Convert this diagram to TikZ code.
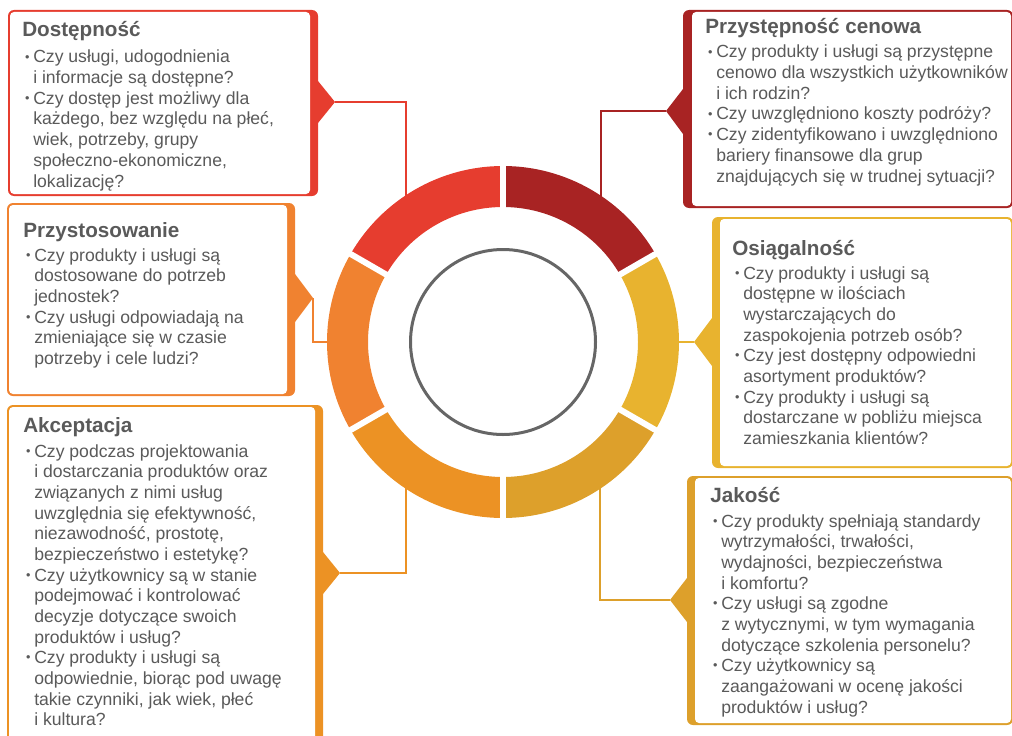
\documentclass[tikz,border=0pt]{standalone}
\usepackage{fontspec}
\setmainfont{Liberation Sans}
\usepackage{xcolor}
\usepackage{tikz}
\usetikzlibrary{calc}
\definecolor{dostred}{HTML}{E63D2F}
\definecolor{cenared}{HTML}{A82323}
\definecolor{osiagyel}{HTML}{E8B32F}
\definecolor{jakgold}{HTML}{DDA02B}
\definecolor{akcorange}{HTML}{EC9224}
\definecolor{przyorange}{HTML}{F08230}
\definecolor{tekstgray}{HTML}{5A5A5A}
\definecolor{kologray}{HTML}{666666}
\newcommand{\pytania}[1]{\vtop{\hsize=300pt\parindent=0pt\parskip=0pt\rightskip=0pt plus 1fil\fontsize{13.2}{15.5}\selectfont #1}}
\newcommand{\pkt}{\par\hangindent=8.25pt\hangafter=1\noindent\makebox[8.25pt][l]{\hspace{2.2pt}\raisebox{1.3pt}{\fontsize{9.5}{9.5}\selectfont •}}}
\tikzstyle{tytul}=[text=tekstgray, font=\fontsize{15.5}{18}\selectfont\bfseries, inner sep=0pt, anchor=base west]
\tikzstyle{tresc}=[text=tekstgray, inner sep=0pt, anchor=base west]
\tikzstyle{lacznik}=[line width=1.4pt]
\tikzstyle{segment}=[line width=30.75pt]
\tikzstyle{przerwa}=[white, line width=4.5pt]

\begin{document}
\begin{tikzpicture}[x=0.75pt, y=-0.75pt]
\useasboundingbox (0,0) rectangle (1012,735);
\coordinate (srodek) at (503,342);

\coordinate (dostTip) at (335,102);
\coordinate (przyTip) at (313,298);
\coordinate (akcTip) at (340,573);
\coordinate (cenaTip) at (666,111);
\coordinate (osiTip) at (694,342);
\coordinate (jakTip) at (670,600);
\coordinate (dostRing) at (406,212);
\coordinate (przyRing) at (342,342);
\coordinate (akcRing) at (406,472);
\coordinate (cenaRing) at (601,212);
\coordinate (osiRing) at (664,342);
\coordinate (jakRing) at (600,472);

\draw[lacznik, dostred] (dostTip) -| (dostRing);
\draw[lacznik, przyorange] (przyTip) |- (przyRing);
\draw[lacznik, akcorange] (akcTip) -| (akcRing);
\draw[lacznik, cenared] (cenaTip) -| (cenaRing);
\draw[lacznik, osiagyel] (osiTip) -- (osiRing);
\draw[lacznik, jakgold] (jakTip) -| (jakRing);

% ring
\draw[segment, dostred] ([shift={(210:155.5)}]srodek) arc (210:270:155.5);
\draw[segment, cenared] ([shift={(270:155.5)}]srodek) arc (270:330:155.5);
\draw[segment, osiagyel] ([shift={(-30:155.5)}]srodek) arc (-30:30:155.5);
\draw[segment, jakgold] ([shift={(30:155.5)}]srodek) arc (30:90:155.5);
\draw[segment, akcorange] ([shift={(90:155.5)}]srodek) arc (90:150:155.5);
\draw[segment, przyorange] ([shift={(150:155.5)}]srodek) arc (150:210:155.5);
\foreach \kat in {30,90,150,210,270,330}
  \draw[przerwa] ([shift={(\kat:128)}]srodek) -- ([shift={(\kat:183)}]srodek);
\draw[kologray, line width=2.25pt] (srodek) circle (92.5);

% boxes
\fill[dostred, rounded corners=4.5pt] (8,10) rectangle (318,196);
\fill[white, rounded corners=3pt] (10,12) rectangle (310,194);
\fill[dostred] (318,81) -- (dostTip) -- (318,123) -- cycle;
\fill[przyorange, rounded corners=4.5pt] (7,203) rectangle (295,396);
\fill[white, rounded corners=3pt] (9,205) rectangle (287,394);
\fill[przyorange] (295,274) -- (przyTip) -- (295,322) -- cycle;
\fill[akcorange, rounded corners=4.5pt] (7,405) rectangle (323,750);
\fill[white, rounded corners=3pt] (9,407) rectangle (315,748);
\fill[akcorange] (323,552) -- (akcTip) -- (323,594) -- cycle;
\fill[cenared, rounded corners=4.5pt] (683,10) rectangle (1013,208);
\fill[white, rounded corners=3pt] (692,12) rectangle (1011,206);
\fill[cenared] (683,89) -- (cenaTip) -- (683,134) -- cycle;
\fill[osiagyel, rounded corners=4.5pt] (712,217) rectangle (1013,468);
\fill[white, rounded corners=3pt] (720,219) rectangle (1011,466);
\fill[osiagyel] (712,318) -- (osiTip) -- (712,366) -- cycle;
\fill[jakgold, rounded corners=4.5pt] (687,476) rectangle (1013,725);
\fill[white, rounded corners=3pt] (695,478) rectangle (1011,723);
\fill[jakgold] (687,578) -- (jakTip) -- (687,622) -- cycle;

% texts
\node[tytul] (dostTytul) at (22,37) {Dostępność};
\node[tresc] (dostTresc) at (22,63) {\pytania{\pkt Czy usługi, udogodnienia\newline i informacje są dostępne?
\pkt Czy dostęp jest możliwy dla\newline każdego, bez względu na płeć,\newline wiek, potrzeby, grupy\newline społeczno-ekonomiczne,\newline lokalizację?}};
\node[tytul] (przyTytul) at (23,237) {Przystosowanie};
\node[tresc] (przyTresc) at (23,261) {\pytania{\pkt Czy produkty i usługi są\newline dostosowane do potrzeb\newline jednostek?
\pkt Czy usługi odpowiadają na\newline zmieniające się w czasie\newline potrzeby i cele ludzi?}};
\node[tytul] (akcTytul) at (23,432) {Akceptacja};
\node[tresc] (akcTresc) at (23,457) {\pytania{\pkt Czy podczas projektowania\newline i dostarczania produktów oraz\newline związanych z nimi usług\newline uwzględnia się efektywność,\newline niezawodność, prostotę,\newline bezpieczeństwo i estetykę?
\pkt Czy użytkownicy są w stanie\newline podejmować i kontrolować\newline decyzje dotyczące swoich\newline produktów i usług?
\pkt Czy produkty i usługi są\newline odpowiednie, biorąc pod uwagę\newline takie czynniki, jak wiek, płeć\newline i kultura?}};
\node[tytul] (cenaTytul) at (705,34) {Przystępność cenowa};
\node[tresc] (cenaTresc) at (705,58) {\pytania{\pkt Czy produkty i usługi są przystępne\newline cenowo dla wszystkich użytkowników\newline i ich rodzin?
\pkt Czy uwzględniono koszty podróży?
\pkt Czy zidentyfikowano i uwzględniono\newline bariery finansowe dla grup\newline znajdujących się w trudnej sytuacji?}};
\node[tytul] (osiTytul) at (732,255) {Osiągalność};
\node[tresc] (osiTresc) at (732,279) {\pytania{\pkt Czy produkty i usługi są\newline dostępne w ilościach\newline wystarczających do\newline zaspokojenia potrzeb osób?
\pkt Czy jest dostępny odpowiedni\newline asortyment produktów?
\pkt Czy produkty i usługi są\newline dostarczane w pobliżu miejsca\newline zamieszkania klientów?}};
\node[tytul] (jakTytul) at (710,502) {Jakość};
\node[tresc] (jakTresc) at (710,527) {\pytania{\pkt Czy produkty spełniają standardy\newline wytrzymałości, trwałości,\newline wydajności, bezpieczeństwa\newline i komfortu?
\pkt Czy usługi są zgodne\newline z wytycznymi, w tym wymagania\newline dotyczące szkolenia personelu?
\pkt Czy użytkownicy są\newline zaangażowani w ocenę jakości\newline produktów i usług?}};
\end{tikzpicture}
\end{document}
